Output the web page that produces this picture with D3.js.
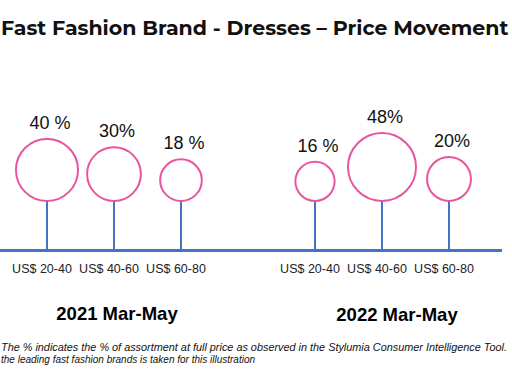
<!DOCTYPE html>
<html><head><meta charset="utf-8">
<script src="https://cdn.jsdelivr.net/npm/d3@7"></script>
<style>html,body{margin:0;padding:0;background:#fff;overflow:hidden}</style>
</head><body>
<svg id="chart" width="512" height="384"></svg>
<script>
// ---- data ----
const titleText = "Fast Fashion Brand - Dresses \u2013 Price Movement";
const groups = ["2021 Mar-May", "2022 Mar-May"];
const categories = ["US$ 20-40", "US$ 40-60", "US$ 60-80"];
const values2021 = [40, 30, 18];
const values2022 = [16, 48, 20];
const labels2021 = ["40 %", "30%", "18 %"];
const labels2022 = ["16 %", "48%", "20%"];
const footnote1 = "The % indicates the % of assortment at full price as observed in the Stylumia Consumer Intelligence Tool.";
const footnote2 = "the leading fast fashion brands is taken for this illustration";

const points = [];
values2021.forEach((v, i) => points.push({group: groups[0], cat: categories[i], value: v, label: labels2021[i], slot: i}));
values2022.forEach((v, i) => points.push({group: groups[1], cat: categories[i], value: v, label: labels2022[i], slot: i + 4}));

const svg = d3.select("#chart");
const axisY = 250.5, stemTop = 201;
const blue = "#4472C4", pink = "#E8559F";

const x = d3.scaleLinear().domain([0, 6]).range([47, 449]);
const r = d3.scaleSqrt().domain([0, 48]).range([0, 34]);
const gx = d3.scalePoint().domain(groups).range([117, 397]);

// title (fitted inside the canvas)
const title = svg.append("text")
  .attr("x", 1)
  .attr("y", 35)
  .attr("font-family", "Montserrat, 'Open Sans', 'DejaVu Sans', sans-serif")
  .attr("font-weight", 700)
  .attr("font-size", 21)
  .attr("fill", "#111")
  .text(titleText);
{
  const w = title.node().getComputedTextLength();
  title.attr("font-size", Math.min(21, 21 * 508 / w));
}

// axis line
svg.append("line")
  .attr("x1", 0).attr("x2", 502)
  .attr("y1", axisY).attr("y2", axisY)
  .attr("stroke", blue).attr("stroke-width", 3.2);

// stems
svg.selectAll(".stem").data(points).join("line")
  .attr("class", "stem")
  .attr("x1", d => x(d.slot)).attr("x2", d => x(d.slot))
  .attr("y1", stemTop).attr("y2", axisY)
  .attr("stroke", blue).attr("stroke-width", 2);

// bubbles
svg.selectAll(".bub").data(points).join("circle")
  .attr("class", "bub")
  .attr("cx", d => x(d.slot))
  .attr("cy", d => stemTop - r(d.value))
  .attr("r", d => r(d.value))
  .attr("fill", "#fff")
  .attr("stroke", pink).attr("stroke-width", 2);

// percent labels
svg.selectAll(".pct").data(points).join("text")
  .attr("class", "pct")
  .attr("x", d => x(d.slot) + 3)
  .attr("y", d => stemTop - 2 * r(d.value) - 10)
  .attr("text-anchor", "middle")
  .attr("font-family", "'Liberation Sans', Arial, sans-serif")
  .attr("font-size", 18)
  .attr("fill", "#111")
  .text(d => d.label);

// category labels
svg.selectAll(".cat").data(points).join("text")
  .attr("class", "cat")
  .attr("x", d => x(d.slot) - 5)
  .attr("y", 273)
  .attr("text-anchor", "middle")
  .attr("font-family", "'Liberation Sans', Arial, sans-serif")
  .attr("font-size", 12.5)
  .attr("fill", "#222")
  .text(d => d.cat);

// group labels
svg.selectAll(".grp").data(groups).join("text")
  .attr("class", "grp")
  .attr("x", d => gx(d))
  .attr("y", (d, i) => 320 + i)
  .attr("text-anchor", "middle")
  .attr("font-family", "'Liberation Sans', Arial, sans-serif")
  .attr("font-weight", 700)
  .attr("font-size", 18.5)
  .attr("fill", "#000")
  .text(d => d);

// footnotes
svg.append("text")
  .attr("x", 1).attr("y", 351)
  .attr("font-family", "'Liberation Sans', Arial, sans-serif")
  .attr("font-style", "italic")
  .attr("font-size", 10)
  .attr("fill", "#111")
  .attr("textLength", 506).attr("lengthAdjust", "spacingAndGlyphs")
  .text(footnote1);
svg.append("text")
  .attr("x", 1).attr("y", 363)
  .attr("font-family", "'Liberation Sans', Arial, sans-serif")
  .attr("font-style", "italic")
  .attr("font-size", 10)
  .attr("fill", "#111")
  .text(footnote2);
</script>
</body></html>
